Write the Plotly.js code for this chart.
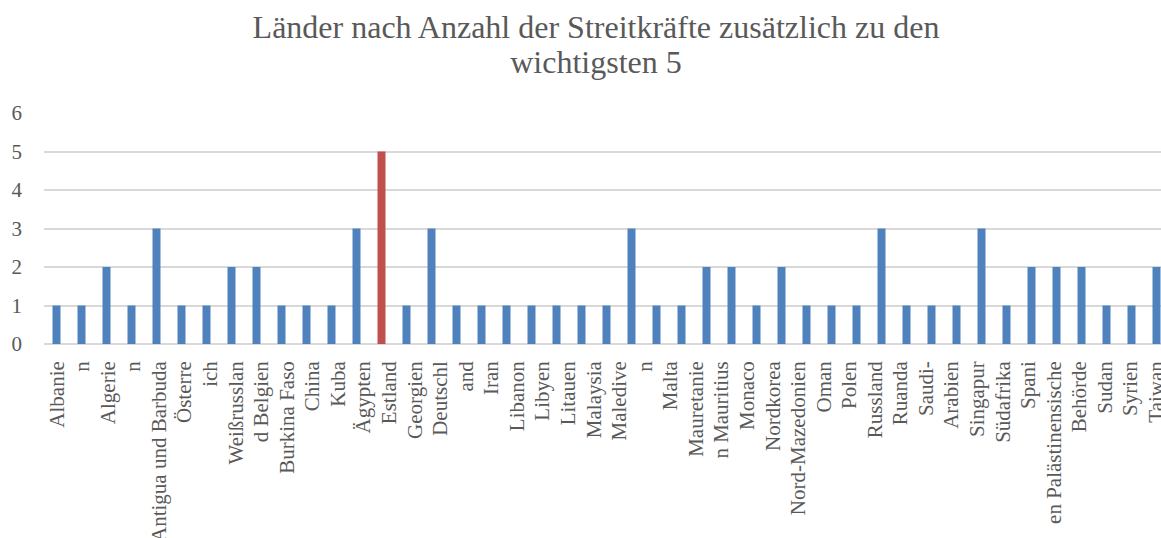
<!DOCTYPE html>
<html>
<head>
<meta charset="utf-8">
<script src="https://cdn.plot.ly/plotly-3.0.1.min.js"></script>
<style>
html,body{margin:0;padding:0;overflow:hidden;background:#fff;}
#chart{width:1170px;height:538px;}
</style>
</head>
<body>
<div id="chart"></div>
<script>
// Bar values (45 bars, in plotted order)
const barValues = [1,1,2,1,3,1,1,2,2,1,1,1,3,5,
  1,3,1,1,1,1,1,1,1,3,1,1,2,2,1,2,
  1,1,1,3,1,1,1,3,1,2,2,2,1,1,2];
// Highlighted bar (Estland)
const highlightIndex = 13;
// Category tick labels as shown (wrapped fragments)
const tickLabels = ["Albanie","n","Algerie","n","Antigua und Barbuda","Österre","ich","Weißrusslan","d Belgien","Burkina Faso","China","Kuba","Ägypten","Estland",
  "Georgien","Deutschl","and","Iran","Libanon","Libyen","Litauen","Malaysia","Maledive","n","Malta","Mauretanie","n Mauritius","Monaco","Nordkorea",
  "Nord-Mazedonien","Oman","Polen","Russland","Ruanda","Saudi-","Arabien","Singapur","Südafrika","Spani","en Palästinensische","Behörde","Sudan","Syrien","Taiwan"];
const yTicks = [0,1,2,3,4,5,6];
const titleLines = ['Länder nach Anzahl der Streitkräfte zusätzlich zu den', 'wichtigsten 5'];

const blue = '#4f81bd', red = '#c0504d', grey = '#595959';
const nBars = barValues.length, nLabels = tickLabels.length;
const xs = barValues.map((_, i) => i);
const colors = barValues.map((_, i) => i === highlightIndex ? red : blue);
// labels are spread evenly over the full plot width
const tickPos = tickLabels.map((_, i) => -0.5 + (i + 0.5) * nBars / nLabels);

const font = 'Liberation Serif';
Plotly.newPlot('chart', [{
  type: 'bar', x: xs, y: barValues,
  marker: {color: colors, line: {width: 0}},
  hoverinfo: 'y'
}], {
  width: 1170, height: 538,
  margin: {l: 44, r: 1, t: 113, b: 194},
  paper_bgcolor: '#fff', plot_bgcolor: '#fff',
  bargap: 0.68,
  showlegend: false,
  title: {
    text: titleLines.map(t => '<span style="font-size:32px">' + t + '</span>').join('<br>'),
    font: {family: font, size: 27, color: grey},
    x: 596/1170, xref: 'container', xanchor: 'center',
    y: 1 - 38/538, yref: 'container', yanchor: 'top'
  },
  xaxis: {
    range: [-0.5, nBars - 0.5],
    tickmode: 'array', tickvals: tickPos, ticktext: tickLabels,
    tickangle: -90, ticks: '', showgrid: false, zeroline: false,
    showline: false, ticklabelstandoff: 12,
    tickfont: {family: font, size: 21, color: grey}, fixedrange: true
  },
  yaxis: {
    range: [0, 6], tickmode: 'array', tickvals: yTicks,
    showgrid: true, gridcolor: '#d9d9d9', gridwidth: 2,
    zeroline: true, zerolinecolor: '#d9d9d9', zerolinewidth: 2,
    showline: false, ticks: '', ticklabelstandoff: 21,
    tickfont: {family: font, size: 21, color: grey}, fixedrange: true
  }
}, {displayModeBar: false, staticPlot: true});
</script>
</body>
</html>
